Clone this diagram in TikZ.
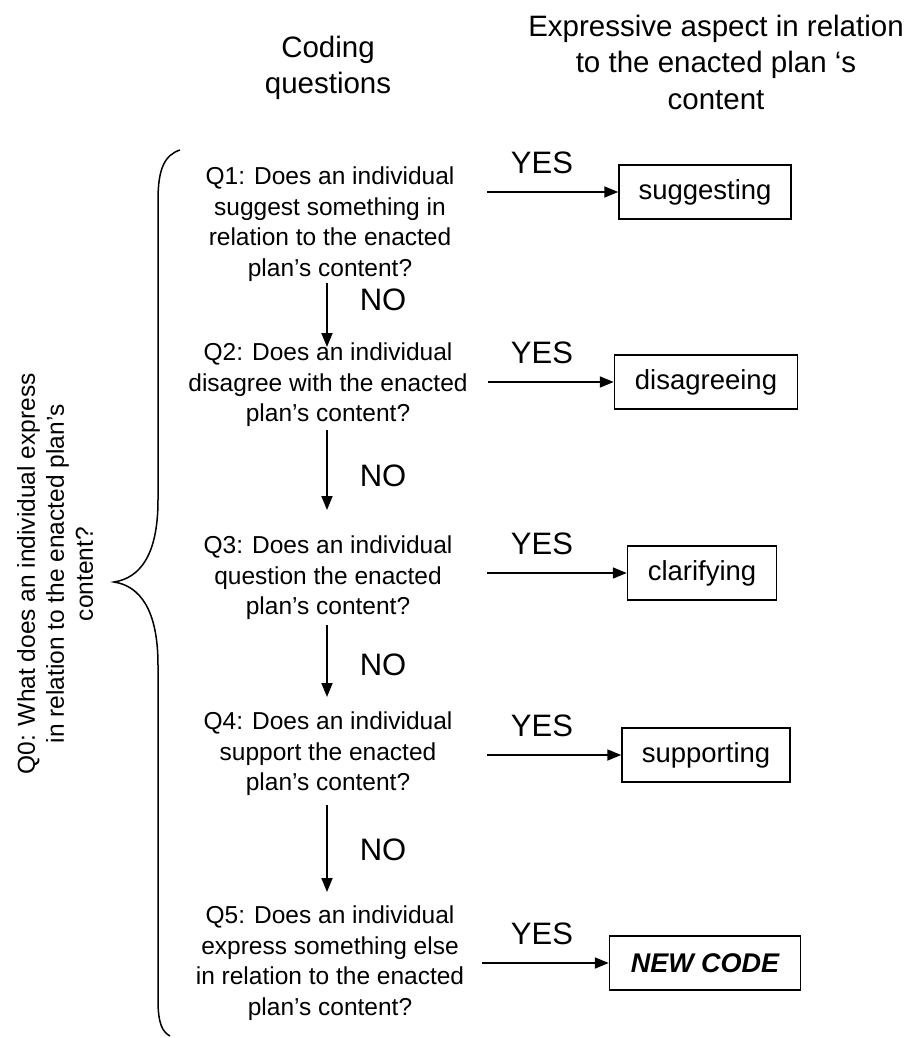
\documentclass[tikz,border=0pt]{standalone}
\usepackage{fontspec}
\setmainfont{Liberation Sans}
\usetikzlibrary{arrows.meta}
\begin{document}
\begin{tikzpicture}[x=1pt,y=-1pt,
  question/.style={align=center,font=\fontsize{24.5}{30.5}\selectfont,inner sep=0pt},
  header/.style={align=center,font=\fontsize{29.5}{36.5}\selectfont,inner sep=0pt},
  answer/.style={draw,line width=1.5pt,font=\fontsize{27.5}{30}\selectfont,minimum height=54pt,inner sep=0pt},
  lbl/.style={font=\fontsize{31}{34}\selectfont,inner sep=0pt},
  flow/.style={line width=1.8pt,-{Triangle[length=14pt,width=11pt]}}]
\useasboundingbox (0,0) rectangle (909,1038);

% column headings
\node[header] (hq) at (328,68) {Coding\\questions};
\node[header] (ha) at (716,62) {Expressive aspect in relation\\to the enacted plan `s\\content};

% coding questions
\node[question] (q1) at (330,224) {Q1: Does an individual\\suggest something in\\relation to the enacted\\plan’s content?};
\node[question] (q2) at (328,385) {Q2: Does an individual\\disagree with the enacted\\plan’s content?};
\node[question] (q3) at (328,578) {Q3: Does an individual\\question the enacted\\plan’s content?};
\node[question] (q4) at (328,754) {Q4: Does an individual\\support the enacted\\plan’s content?};
\node[question] (q5) at (330,963) {Q5: Does an individual\\express something else\\in relation to the enacted\\plan’s content?};

% expressive aspects
\node[answer,minimum width=172pt] (a1) at (705,192) {suggesting};
\node[answer,minimum width=183pt] (a2) at (706,382) {disagreeing};
\node[answer,minimum width=149pt] (a3) at (702,573) {clarifying};
\node[answer,minimum width=168pt] (a4) at (706,755) {supporting};
\node[answer,minimum width=191pt,font=\fontsize{27}{30}\selectfont\bfseries\itshape] (a5) at (705,963) {NEW CODE};

% YES branches
\coordinate (y1) at (487,192);
\coordinate (y2) at (488,382);
\coordinate (y3) at (487,573);
\coordinate (y4) at (487,755);
\coordinate (y5) at (482,963);
\foreach \i in {1,...,5}{\draw[flow] (y\i) -- (a\i.west);}
\node[lbl] (yes1) at (542,163) {YES};
\node[lbl] (yes2) at (542,353) {YES};
\node[lbl] (yes3) at (542,544) {YES};
\node[lbl] (yes4) at (542,726) {YES};
\node[lbl] (yes5) at (542,934) {YES};

% NO branches
\coordinate (n1s) at (327,283); \coordinate (n1e) at (327,347);
\coordinate (n2s) at (327,430); \coordinate (n2e) at (327,510);
\coordinate (n3s) at (327,625); \coordinate (n3e) at (327,697);
\coordinate (n4s) at (327,805); \coordinate (n4e) at (327,892);
\foreach \i in {1,...,4}{\draw[flow] (n\i s) -- (n\i e);}
\node[lbl] (no1) at (383,300) {NO};
\node[lbl] (no2) at (383,476) {NO};
\node[lbl] (no3) at (383,665) {NO};
\node[lbl] (no4) at (383,850) {NO};

% brace grouping all questions
\coordinate (bt) at (180,150);
\coordinate (tip) at (114,582);
\coordinate (bb) at (170,1036);
\draw[line width=1.5pt] (bt) .. controls (165,155) and (158,168) .. (158,200)
  -- (158,500) .. controls (158,555) and (140,578) .. (tip)
  .. controls (140,586) and (158,610) .. (158,665)
  -- (158,1000) .. controls (158,1025) and (163,1032) .. (bb);

% overall question
\node[question,rotate=90,font=\fontsize{24.5}{29}\selectfont] (q0) at (55,574) {Q0: What does an individual express\\in relation to the enacted plan's\\content?};
\end{tikzpicture}
\end{document}
